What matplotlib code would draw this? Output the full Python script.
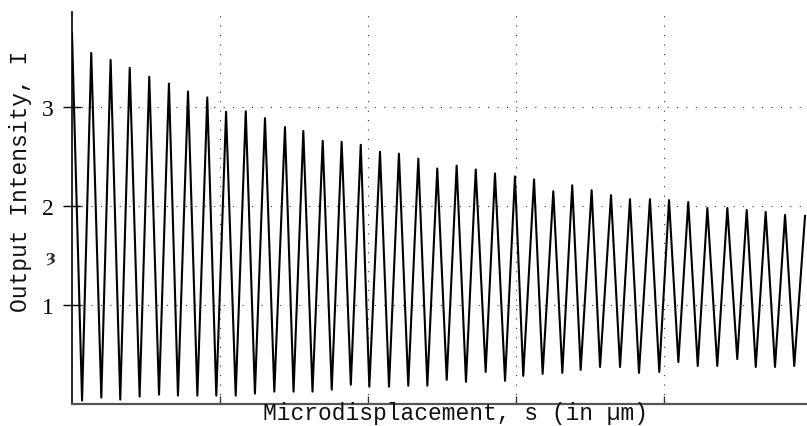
import numpy as np
import matplotlib
matplotlib.use("Agg")
import matplotlib.pyplot as plt

# ---- data (x in grid units, y = output intensity) ----
start_x = [0.0]
start_y = [3.75]

peak_x = [0.130, 0.261, 0.390, 0.522, 0.655, 0.784, 0.914, 1.041, 1.174, 1.304,
          1.439, 1.563, 1.694, 1.822, 1.951, 2.081, 2.209, 2.340, 2.468, 2.599,
          2.728, 2.858, 2.993, 3.122, 3.252, 3.380, 3.511, 3.642, 3.770, 3.905,
          4.034, 4.164, 4.293, 4.428, 4.559, 4.687, 4.818, 4.953]
peak_y = [3.55, 3.48, 3.40, 3.31, 3.24, 3.16, 3.10, 2.955, 2.96, 2.89,
          2.80, 2.76, 2.66, 2.65, 2.62, 2.55, 2.53, 2.48, 2.38, 2.41,
          2.37, 2.33, 2.30, 2.27, 2.15, 2.21, 2.16, 2.11, 2.07, 2.07,
          2.06, 2.04, 1.98, 1.98, 1.96, 1.94, 1.91, 1.90]

trough_x = [0.068, 0.198, 0.326, 0.457, 0.588, 0.716, 0.847, 0.975, 1.106, 1.236,
            1.367, 1.497, 1.625, 1.755, 1.884, 2.009, 2.142, 2.272, 2.401, 2.532,
            2.662, 2.795, 2.926, 3.049, 3.180, 3.313, 3.437, 3.568, 3.703, 3.831,
            3.968, 4.097, 4.228, 4.360, 4.495, 4.620, 4.750, 4.880]
trough_y = [0.03, 0.06, 0.04, 0.07, 0.09, 0.08, 0.08, 0.08, 0.08, 0.10,
            0.12, 0.12, 0.12, 0.14, 0.19, 0.17, 0.17, 0.18, 0.18, 0.24,
            0.22, 0.32, 0.23, 0.28, 0.30, 0.31, 0.34, 0.37, 0.37, 0.31,
            0.32, 0.42, 0.38, 0.38, 0.45, 0.37, 0.37, 0.38]

y_ticks = [1, 2, 3]
y_tick_labels = ["1", "2", "3"]
x_grid = [1, 2, 3, 4]

x_label = "Microdisplacement, s (in \u00b5m)"
y_label = "Output Intensity, I"
stray_mark = "\u021d"

# ---- build the signal: start, then alternating trough/peak ----
xs = list(start_x)
ys = list(start_y)
for tx, ty, px, py in zip(trough_x, trough_y, peak_x, peak_y):
    xs += [tx, px]
    ys += [ty, py]

W, H = 807, 427
fig = plt.figure(figsize=(W / 100, H / 100), dpi=100)
fig.patch.set_facecolor("white")

ax_left = 72 / W
ax_bottom = (H - 404.5) / H
ax_top = (H - 13) / H
ax = fig.add_axes([ax_left, ax_bottom, 1.0 - ax_left, ax_top - ax_bottom])

ax.plot(xs, ys, color="black", lw=1.5, solid_joinstyle="round", zorder=3)

ax.set_xlim(0, (W - 72) / 148)
ax.set_ylim(0, 3.965)

# grid
for gx in x_grid:
    ax.axvline(gx, color="#333333", lw=0.8, ls=(0, (1, 7.5)), zorder=1)
for gy in y_ticks:
    ax.axhline(gy, color="#333333", lw=0.8, ls=(0, (1, 7.5)), zorder=1)

# spines
for s in ["top", "right"]:
    ax.spines[s].set_visible(False)
ax.spines["left"].set_linewidth(1.2)
ax.spines["left"].set_color("black")
ax.spines["bottom"].set_linewidth(1.6)
ax.spines["bottom"].set_color("#555555")

# ticks
ax.set_yticks(y_ticks)
ax.set_yticklabels(y_tick_labels, fontfamily="Liberation Serif", fontsize=17)
ax.tick_params(axis="y", direction="inout", length=13, width=1.0, pad=6.5, colors="black")
ax.set_xticks(x_grid)
ax.set_xticklabels([])
ax.tick_params(axis="x", direction="in", length=6, width=1.0, colors="#333333")

# labels
fig.text(455.5 / W, 1 - 414 / H, x_label, fontfamily="Liberation Mono", fontsize=16.5,
         ha="center", va="center", color="#111111")
fig.text(21 / W, 1 - 181 / H, y_label, fontfamily="Liberation Mono", fontsize=16.5,
         rotation=90, ha="center", va="center", color="#111111")
# stray scanned mark next to the y label
fig.text(50 / W, 1 - 257 / H, stray_mark, family=["DejaVu Serif", "DejaVu Sans"],
         fontsize=12, fontweight="bold", ha="center", va="center", color="#333333")

fig.savefig("out.png", dpi=100, facecolor="white")
